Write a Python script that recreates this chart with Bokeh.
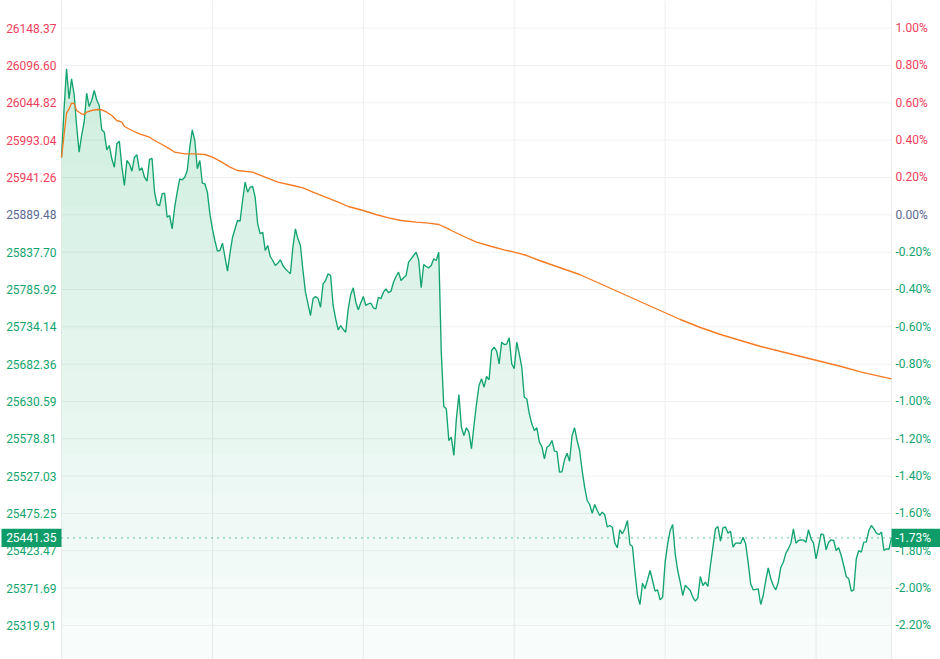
from bokeh.plotting import figure
from bokeh.models import Range1d
from bokeh.core.properties import value
from bokeh.embed import file_html
from bokeh.resources import INLINE

# ---------------- data ----------------
prev_close = 25889.48
last_price = 25441.35
last_pct = "-1.73%"

# trading minutes since 09:30 (lunch break removed), 0 .. 330
minutes = list(range(331))

prices = [
    25968.96, 26035.00, 26092.00, 26050.38, 26078.13, 26057.32, 26013.35, 25976.31, 25999.48, 26017.93,
    26058.15, 26039.70, 26048.03, 26061.90, 26049.00, 26041.09, 26007.38, 26004.05, 25979.64, 25985.61,
    25967.16, 25955.51, 25987.96, 25991.57, 25955.90, 25930.12, 25964.80, 25960.22, 25949.96, 25969.38,
    25972.71, 25950.93, 25954.67, 25941.63, 25936.09, 25966.40, 25967.60, 25920.83, 25903.77, 25902.38,
    25918.61, 25919.44, 25886.15, 25888.51, 25870.06, 25900.02, 25921.00, 25939.42, 25938.03, 25941.63,
    25950.93, 25983.25, 26007.38, 25992.54, 25953.29, 25964.80, 25933.31, 25932.48, 25920.83, 25890.87,
    25870.06, 25853.50, 25838.99, 25839.96, 25850.09, 25830.67, 25811.25, 25836.20, 25858.41, 25870.06,
    25881.57, 25880.60, 25909.32, 25934.70, 25920.83, 25927.76, 25928.74, 25913.89, 25877.00, 25863.13,
    25865.34, 25839.96, 25846.90, 25831.64, 25826.09, 25819.15, 25822.34, 25827.06, 25819.15, 25814.58,
    25811.00, 25807.64, 25844.54, 25870.06, 25856.19, 25846.90, 25812.22, 25782.12, 25766.03, 25749.80,
    25772.96, 25776.15, 25773.50, 25761.31, 25793.77, 25798.35, 25807.64, 25805.28, 25763.67, 25745.22,
    25729.96, 25735.93, 25730.60, 25726.63, 25759.09, 25778.93, 25788.22, 25768.25, 25757.71, 25767.60,
    25776.15, 25763.67, 25766.03, 25766.86, 25760.48, 25759.09, 25775.18, 25772.96, 25782.12, 25786.83,
    25781.50, 25783.51, 25795.99, 25803.90, 25809.86, 25798.35, 25802.09, 25805.28, 25823.73, 25828.45,
    25833.02, 25837.60, 25827.06, 25788.22, 25820.54, 25817.77, 25815.96, 25819.15, 25828.45, 25826.09,
    25837.60, 25698.48, 25623.57, 25620.38, 25576.41, 25580.99, 25555.61, 25606.51, 25640.22, 25594.86,
    25583.35, 25594.03, 25587.92, 25564.90, 25597.22, 25627.32, 25652.70, 25662.00, 25650.34, 25665.19,
    25660.61, 25701.25, 25705.83, 25700.28, 25682.80, 25712.76, 25709.57, 25710.20, 25718.87, 25682.80,
    25675.87, 25712.76, 25696.67, 25678.09, 25636.47, 25634.25, 25613.45, 25599.58, 25590.28, 25594.03,
    25574.05, 25568.09, 25551.03, 25567.12, 25569.48, 25576.41, 25561.57, 25560.90, 25532.44, 25533.10,
    25549.64, 25558.80, 25547.70, 25583.35, 25594.03, 25576.41, 25562.54, 25534.80, 25511.63, 25493.19,
    25487.64, 25475.57, 25487.64, 25479.31, 25472.38, 25476.96, 25473.35, 25456.43, 25458.51, 25456.15,
    25433.96, 25427.58, 25452.54, 25447.00, 25453.93, 25465.44, 25432.15, 25429.38, 25393.73, 25361.41,
    25348.93, 25378.47, 25370.70, 25383.19, 25396.09, 25382.22, 25367.38, 25369.32, 25355.45, 25359.05,
    25407.60, 25433.12, 25451.57, 25459.89, 25419.25, 25396.09, 25379.86, 25361.41, 25375.28, 25372.09,
    25368.35, 25359.05, 25353.50, 25358.22, 25387.77, 25375.28, 25379.86, 25373.90, 25403.02, 25428.41,
    25453.93, 25457.12, 25436.73, 25455.32, 25456.50, 25447.83, 25450.60, 25428.41, 25433.96, 25434.50,
    25433.40, 25442.28, 25433.12, 25407.60, 25377.64, 25369.32, 25369.90, 25370.70, 25348.93, 25361.41,
    25382.22, 25399.83, 25384.58, 25375.28, 25369.32, 25379.86, 25400.67, 25407.60, 25420.09, 25426.19,
    25433.96, 25453.93, 25433.96, 25437.70, 25438.67, 25438.20, 25435.34, 25452.54, 25440.06, 25433.96,
    25412.32, 25429.38, 25447.00, 25445.61, 25424.80, 25435.34, 25438.67, 25437.70, 25423.83, 25427.58,
    25416.90, 25403.02, 25387.77, 25384.58, 25367.38, 25369.32, 25412.32, 25423.83, 25421.47, 25435.34,
    25435.90, 25451.57, 25458.51, 25453.93, 25447.83, 25446.02, 25449.21, 25423.83, 25426.19, 25425.60,
    25441.35,
]

avg_minutes = [0, 2, 3, 4, 5, 6, 8, 9, 10, 12, 14, 16, 18, 20, 22, 24, 25, 28, 31, 35,
               37, 40, 43, 45, 49, 53, 57, 60, 63, 67, 70, 76, 81, 86, 92, 96, 100, 105, 110, 114,
               120, 125, 130, 135, 141, 146, 150, 153, 155, 160, 165, 171, 176, 180, 185, 190, 198, 206, 214, 222,
               230, 238, 246, 254, 262, 270, 278, 286, 294, 302, 310, 318, 330]
avg_prices = [25968.96, 26030.41, 26036.51, 26044.28, 26044.00, 26034.15, 26029.58, 26028.61, 26031.80, 26034.15,
              26035.54, 26035.13, 26031.80, 26027.22, 26020.28, 26017.93, 26011.96, 26006.41, 26001.84, 25997.12,
              25992.54, 25986.99, 25981.03, 25976.31, 25974.09, 25974.00, 25973.12, 25969.38, 25963.83, 25955.51,
              25950.93, 25948.57, 25941.63, 25934.70, 25930.12, 25926.93, 25920.83, 25913.89, 25906.96, 25900.99,
              25895.44, 25889.90, 25885.32, 25881.57, 25879.22, 25877.83, 25876.03, 25871.45, 25867.70, 25859.38,
              25851.47, 25845.51, 25840.93, 25837.60, 25833.02, 25826.09, 25816.38, 25806.67, 25794.19, 25781.70,
              25769.22, 25756.73, 25744.25, 25733.15, 25723.44, 25715.12, 25706.80, 25699.86, 25692.93, 25685.99,
              25679.06, 25671.15, 25662.00]

left_ticks = [26148.37, 26096.60, 26044.82, 25993.04, 25941.26, 25889.48, 25837.70, 25785.92, 25734.14,
              25682.36, 25630.59, 25578.81, 25527.03, 25475.25, 25423.47, 25371.69, 25319.91]
pct_labels = ["1.00%", "0.80%", "0.60%", "0.40%", "0.20%", "0.00%", "-0.20%", "-0.40%", "-0.60%",
              "-0.80%", "-1.00%", "-1.20%", "-1.40%", "-1.60%", "-1.80%", "-2.00%", "-2.20%"]
hour_marks = [60, 120, 180, 240, 300]   # 10:30, 11:30, 13:30, 14:30, 15:30

# ---------------- style ----------------
GREEN = "#12a46f"
FILL_GREEN = "#12ad70"
BOX_GREEN = "#0e9d69"
RED = "#f03e5c"
SLATE = "#5a6890"
ORANGE = "#f47b22"
GRID = "#f1f1f1"
FONT = "Roboto"

W, H = 940, 659
LEFT_PX, RIGHT_PX = 61, 49          # label margins, in pixels
T0, T1 = 0, 330
Y0, Y1 = 25272.63, 26186.74
PX_PER_MIN = (W - LEFT_PX - RIGHT_PX) / (T1 - T0)
PTS_PER_PX = (Y1 - Y0) / H
BOX_HALF = 9.2 * PTS_PER_PX

XS, XE = T0 - LEFT_PX / PX_PER_MIN, T1 + RIGHT_PX / PX_PER_MIN

# frame covers the whole canvas; the price area is 0..330 inside it, the side
# margins hold the price / percent labels
p = figure(width=W, height=H, output_backend="svg", toolbar_location=None,
           x_range=Range1d(XS, XE), y_range=Range1d(Y0, Y1),
           x_axis_location=None, y_axis_location=None,
           min_border_left=0, min_border_right=0, min_border_top=0, min_border_bottom=0,
           outline_line_color=None, background_fill_color="white",
           border_fill_color="white")
p.grid.visible = False

# grid lines limited to the price area
p.segment(x0=[T0] * len(left_ticks), x1=[T1] * len(left_ticks), y0=left_ticks, y1=left_ticks,
          line_color=GRID, line_width=1)
p.segment(x0=hour_marks, x1=hour_marks, y0=[Y0] * len(hour_marks), y1=[Y1] * len(hour_marks),
          line_color="#eeeeee", line_width=1)
p.segment(x0=[T0, T1], x1=[T0, T1], y0=[Y0, Y0], y1=[Y1, Y1], line_color="#ececec", line_width=1)

# gradient-like fill under the price line: stacked translucent layers
n_layers = 16
step = (Y1 - Y0) / n_layers
p.varea(x=minutes, y1=[Y0] * len(minutes), y2=prices, fill_color=FILL_GREEN, fill_alpha=0.03)
for i in range(1, n_layers):
    lo = Y0 + i * step
    top = [max(v, lo) for v in prices]
    p.varea(x=minutes, y1=[lo] * len(minutes), y2=top, fill_color=FILL_GREEN, fill_alpha=0.0135)

p.line(minutes, prices, line_color=GREEN, line_width=1.35)
p.line(avg_minutes, avg_prices, line_color=ORANGE, line_width=1.35)

p.segment(x0=[T0], x1=[T1], y0=[last_price], y1=[last_price], line_color="#0c9a66",
          line_dash="1 5", line_width=1.2)

colors = []
for tk in left_ticks:
    if abs(tk - prev_close) < 0.01:
        colors.append(SLATE)
    elif tk > prev_close:
        colors.append(RED)
    else:
        colors.append(GREEN)

p.text(x=[T0] * len(left_ticks), y=left_ticks, text=[f"{tk:.2f}" for tk in left_ticks],
       x_offset=-5, text_align="right", text_baseline="middle", text_color=colors,
       text_font=value(FONT), text_font_size="12px")
p.text(x=[T1] * len(left_ticks), y=left_ticks, text=pct_labels,
       x_offset=4, text_align="left", text_baseline="middle", text_color=colors,
       text_font=value(FONT), text_font_size="12px")

# current-price tags
p.quad(left=[XS + 1 / PX_PER_MIN, T1], right=[T0, XE],
       bottom=[last_price - BOX_HALF] * 2, top=[last_price + BOX_HALF] * 2,
       fill_color=BOX_GREEN, line_color=None)
p.text(x=[T0], y=[last_price], text=[f"{last_price:.2f}"], x_offset=-5, text_align="right",
       text_baseline="middle", text_color="white", text_font=value(FONT), text_font_size="12px")
p.text(x=[T1], y=[last_price], text=[last_pct], x_offset=4, text_align="left",
       text_baseline="middle", text_color="white", text_font=value(FONT), text_font_size="12px")

open("out.html", "w").write(file_html(p, INLINE))
